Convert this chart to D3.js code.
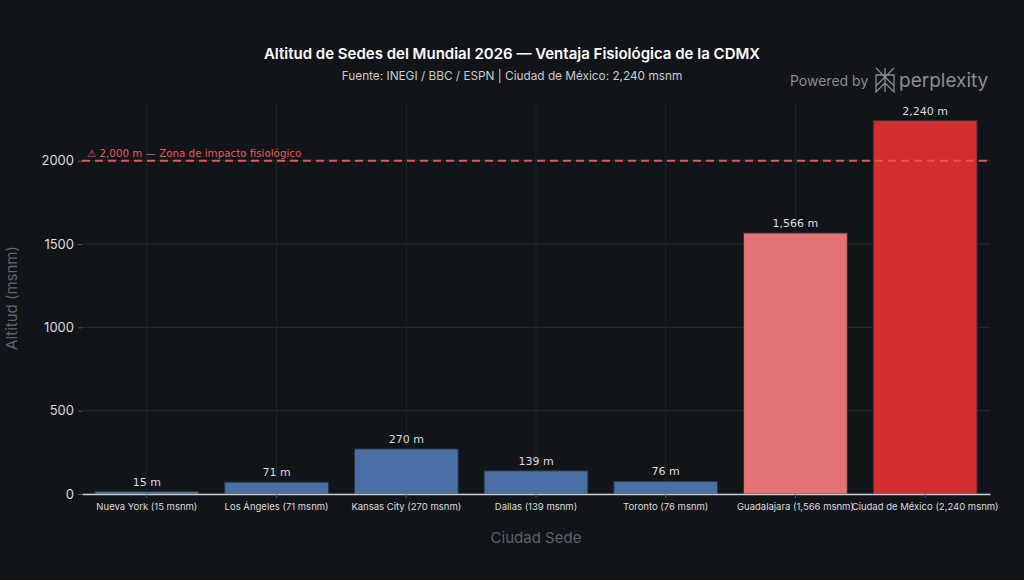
<!DOCTYPE html>
<html>
<head>
	<meta charset="utf-8">
	<title>Altitud de Sedes del Mundial 2026</title>
	<style>
		body { margin: 0; background: #111418; }
		svg { display: block; }
	</style>
</head>
<body>
	<script src="https://d3js.org/d3.v7.min.js" charset="utf-8"></script>
	<script>
var cities = ['Nueva York (15 msnm)', 'Los Ángeles (71 msnm)', 'Kansas City (270 msnm)', 'Dallas (139 msnm)',
	'Toronto (76 msnm)', 'Guadalajara (1,566 msnm)', 'Ciudad de México (2,240 msnm)'];
var altitudes = [15, 71, 270, 139, 76, 1566, 2240];
var barColors = ['#4a6fa5', '#4a6fa5', '#4a6fa5', '#4a6fa5', '#4a6fa5', '#e57373', '#d32f2f'];
var yTicks = [0, 500, 1000, 1500, 2000];
var threshold = 2000;

var width = 1024, height = 580;
var margin = {top: 102, right: 34, bottom: 86, left: 82};
var fontUI = 'Inter, "Noto Sans", sans-serif';
var fontMono = '"DejaVu Sans", sans-serif';

var svg = d3.select('body').append('svg')
	.attr('width', width)
	.attr('height', height)
	.style('background', '#111418');

var x = d3.scaleBand()
	.domain(cities)
	.range([margin.left, width - margin.right])
	.paddingInner(0.2)
	.paddingOuter(0.1);

var y = d3.scaleLinear()
	.domain([0, d3.max(altitudes) * 1.05])
	.range([height - margin.bottom, margin.top]);

// grid
svg.append('g')
	.selectAll('line.h')
	.data(yTicks)
	.enter().append('line')
	.attr('x1', margin.left).attr('x2', width - margin.right)
	.attr('y1', function(d) { return y(d); }).attr('y2', function(d) { return y(d); })
	.attr('stroke', '#2a2e34').attr('stroke-width', 1);

svg.append('g')
	.selectAll('line.v')
	.data(cities)
	.enter().append('line')
	.attr('x1', function(d) { return x(d) + x.bandwidth() / 2; })
	.attr('x2', function(d) { return x(d) + x.bandwidth() / 2; })
	.attr('y1', margin.top).attr('y2', height - margin.bottom)
	.attr('stroke', '#212529').attr('stroke-width', 1);

// bars
svg.append('g')
	.selectAll('rect')
	.data(altitudes)
	.enter().append('rect')
	.attr('x', function(d, i) { return x(cities[i]); })
	.attr('y', function(d) { return y(d); })
	.attr('width', x.bandwidth())
	.attr('height', function(d) { return y(0) - y(d); })
	.attr('fill', function(d, i) { return barColors[i]; })
	.attr('stroke', '#2b3440')
	.attr('stroke-width', 1);

// value labels
svg.append('g')
	.selectAll('text')
	.data(altitudes)
	.enter().append('text')
	.attr('x', function(d, i) { return x(cities[i]) + x.bandwidth() / 2; })
	.attr('y', function(d) { return y(d) - 6; })
	.attr('text-anchor', 'middle')
	.attr('font-family', fontMono)
	.attr('font-size', 11)
	.attr('fill', '#dddddd')
	.text(function(d) { return d3.format(',')(d) + ' m'; });

// threshold line
svg.append('line')
	.attr('x1', margin.left).attr('x2', width - margin.right)
	.attr('y1', y(threshold)).attr('y2', y(threshold))
	.attr('stroke', '#e55757')
	.attr('stroke-width', 2)
	.attr('stroke-dasharray', '8,5');

svg.append('text')
	.attr('x', margin.left + 5)
	.attr('y', y(threshold) - 4)
	.attr('font-family', fontMono)
	.attr('font-size', 10.3)
	.attr('fill', '#e55b5b')
	.text('⚠ 2,000 m — Zona de impacto fisiológico');

// axes
var xAxis = svg.append('g')
	.attr('transform', 'translate(0,' + y(0) + ')')
	.call(d3.axisBottom(x).tickSize(4).tickSizeOuter(0));
xAxis.select('.domain').attr('stroke', '#cccccc').attr('stroke-width', 1.5);
xAxis.selectAll('.tick line').attr('stroke', '#555a60');
xAxis.selectAll('.tick text')
	.attr('fill', '#dddddd')
	.attr('font-family', fontUI)
	.attr('font-size', 9.5)
	.attr('dy', '0.95em');

var yAxis = svg.append('g')
	.attr('transform', 'translate(' + margin.left + ',0)')
	.call(d3.axisLeft(y).tickValues(yTicks).tickSize(4).tickFormat(d3.format('d')));
yAxis.select('.domain').remove();
yAxis.selectAll('.tick line').attr('stroke', '#555a60');
yAxis.selectAll('.tick text')
	.attr('fill', '#dddddd')
	.attr('font-family', fontUI)
	.attr('font-size', 13)
	.attr('x', -8);

// axis titles
svg.append('text')
	.attr('transform', 'translate(17,' + ((margin.top + height - margin.bottom) / 2) + ') rotate(-90)')
	.attr('text-anchor', 'middle')
	.attr('font-family', fontUI)
	.attr('font-size', 15)
	.attr('fill', '#5f6368')
	.text('Altitud (msnm)');

svg.append('text')
	.attr('x', (margin.left + width - margin.right) / 2)
	.attr('y', 543)
	.attr('text-anchor', 'middle')
	.attr('font-family', fontUI)
	.attr('font-size', 15)
	.attr('fill', '#5f6368')
	.text('Ciudad Sede');

// titles
svg.append('text')
	.attr('x', 512).attr('y', 59)
	.attr('text-anchor', 'middle')
	.attr('font-family', fontUI)
	.attr('font-weight', 600)
	.attr('font-size', 15)
	.attr('fill', '#ffffff')
	.text('Altitud de Sedes del Mundial 2026 — Ventaja Fisiológica de la CDMX');

svg.append('text')
	.attr('x', 512).attr('y', 80)
	.attr('text-anchor', 'middle')
	.attr('font-family', fontUI)
	.attr('font-size', 11.8)
	.attr('fill', '#cccccc')
	.text('Fuente: INEGI / BBC / ESPN | Ciudad de México: 2,240 msnm');

// watermark
var wm = svg.append('g').attr('fill', '#8a8d91').attr('font-family', fontUI);
wm.append('text').attr('x', 790).attr('y', 86).attr('font-size', 14).text('Powered by');
var logo = svg.append('g')
	.attr('transform', 'translate(885,80)')
	.attr('stroke', '#8a8d91').attr('fill', 'none').attr('stroke-width', 1.3);
logo.append('path').attr('d', 'M-9,-12 L0,-3 L9,-12 M0,-12 V12 M-9,-5 H9 V6 L0,-3 L-9,6 Z M-9,6 V12 L0,3 L9,12 V6');
wm.append('text').attr('x', 899).attr('y', 87).attr('font-size', 19).text('perplexity');
	</script>
</body>
</html>
